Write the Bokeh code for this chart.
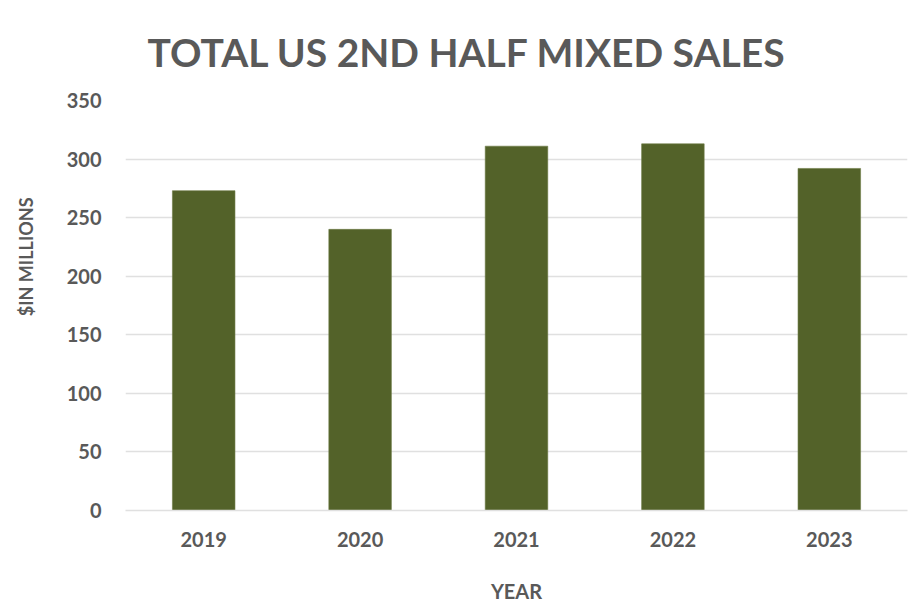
from bokeh.plotting import figure
from bokeh.models import ColumnDataSource, Range1d, FixedTicker, Title
from bokeh.embed import file_html
from bokeh.resources import INLINE

years = ["2019", "2020", "2021", "2022", "2023"]
sales = [273, 240, 311, 313, 292]
y_ticks = [0, 50, 100, 150, 200, 250, 300, 350]

TEXT = "#595959"
FONT = "Lato"

src = ColumnDataSource(dict(year=years, sales=sales))

p = figure(x_range=years, y_range=Range1d(0, 350), width=921, height=605,
           output_backend="svg", toolbar_location=None,
           min_border_left=125, min_border_right=14,
           min_border_top=100, min_border_bottom=95)

p.vbar(x="year", top="sales", width=0.4, source=src,
       fill_color="#536229", line_color="#6b7a45", line_width=0.6)

p.title.text = "TOTAL US 2ND HALF MIXED SALES"
p.title.text_font = FONT
p.title.text_font_style = "bold"
p.title.text_font_size = "39px"
p.title.text_color = TEXT
p.title.align = "left"
p.title.offset = 22
p.title.standoff = 52

ylab = Title(text="$IN MILLIONS", align="right", offset=97,
             text_font=FONT, text_font_style="bold", text_font_size="18px",
             text_color=TEXT, standoff=4)
p.add_layout(ylab, "left")

p.outline_line_color = None
p.background_fill_color = "white"
p.border_fill_color = "white"

p.xgrid.grid_line_color = None
p.ygrid.grid_line_color = "#e0e0e0"
p.ygrid.grid_line_width = 1.5
p.yaxis.ticker = FixedTicker(ticks=y_ticks)

for ax in (p.xaxis[0], p.yaxis[0]):
    ax.major_tick_line_color = None
    ax.minor_tick_line_color = None
    ax.major_label_text_font = FONT
    ax.major_label_text_font_style = "bold"
    ax.major_label_text_font_size = "20px"
    ax.major_label_text_color = TEXT
    ax.axis_label_text_font = FONT
    ax.axis_label_text_font_style = "bold"
    ax.axis_label_text_color = TEXT

p.yaxis.axis_line_color = None
p.xaxis.axis_line_color = "#e0e0e0"
p.xaxis.axis_line_width = 1.5

p.yaxis.major_label_standoff = 18
p.xaxis.major_label_standoff = 15

# blank y-axis label used only as a gap between tick labels and the side title
p.yaxis.axis_label = " "
p.yaxis.axis_label_text_font_size = "1px"
p.yaxis.axis_label_standoff = 21

p.xaxis.axis_label = "YEAR"
p.xaxis.axis_label_text_font_size = "20px"
p.xaxis.axis_label_standoff = 29

open("out.html", "w").write(file_html(p, INLINE))
